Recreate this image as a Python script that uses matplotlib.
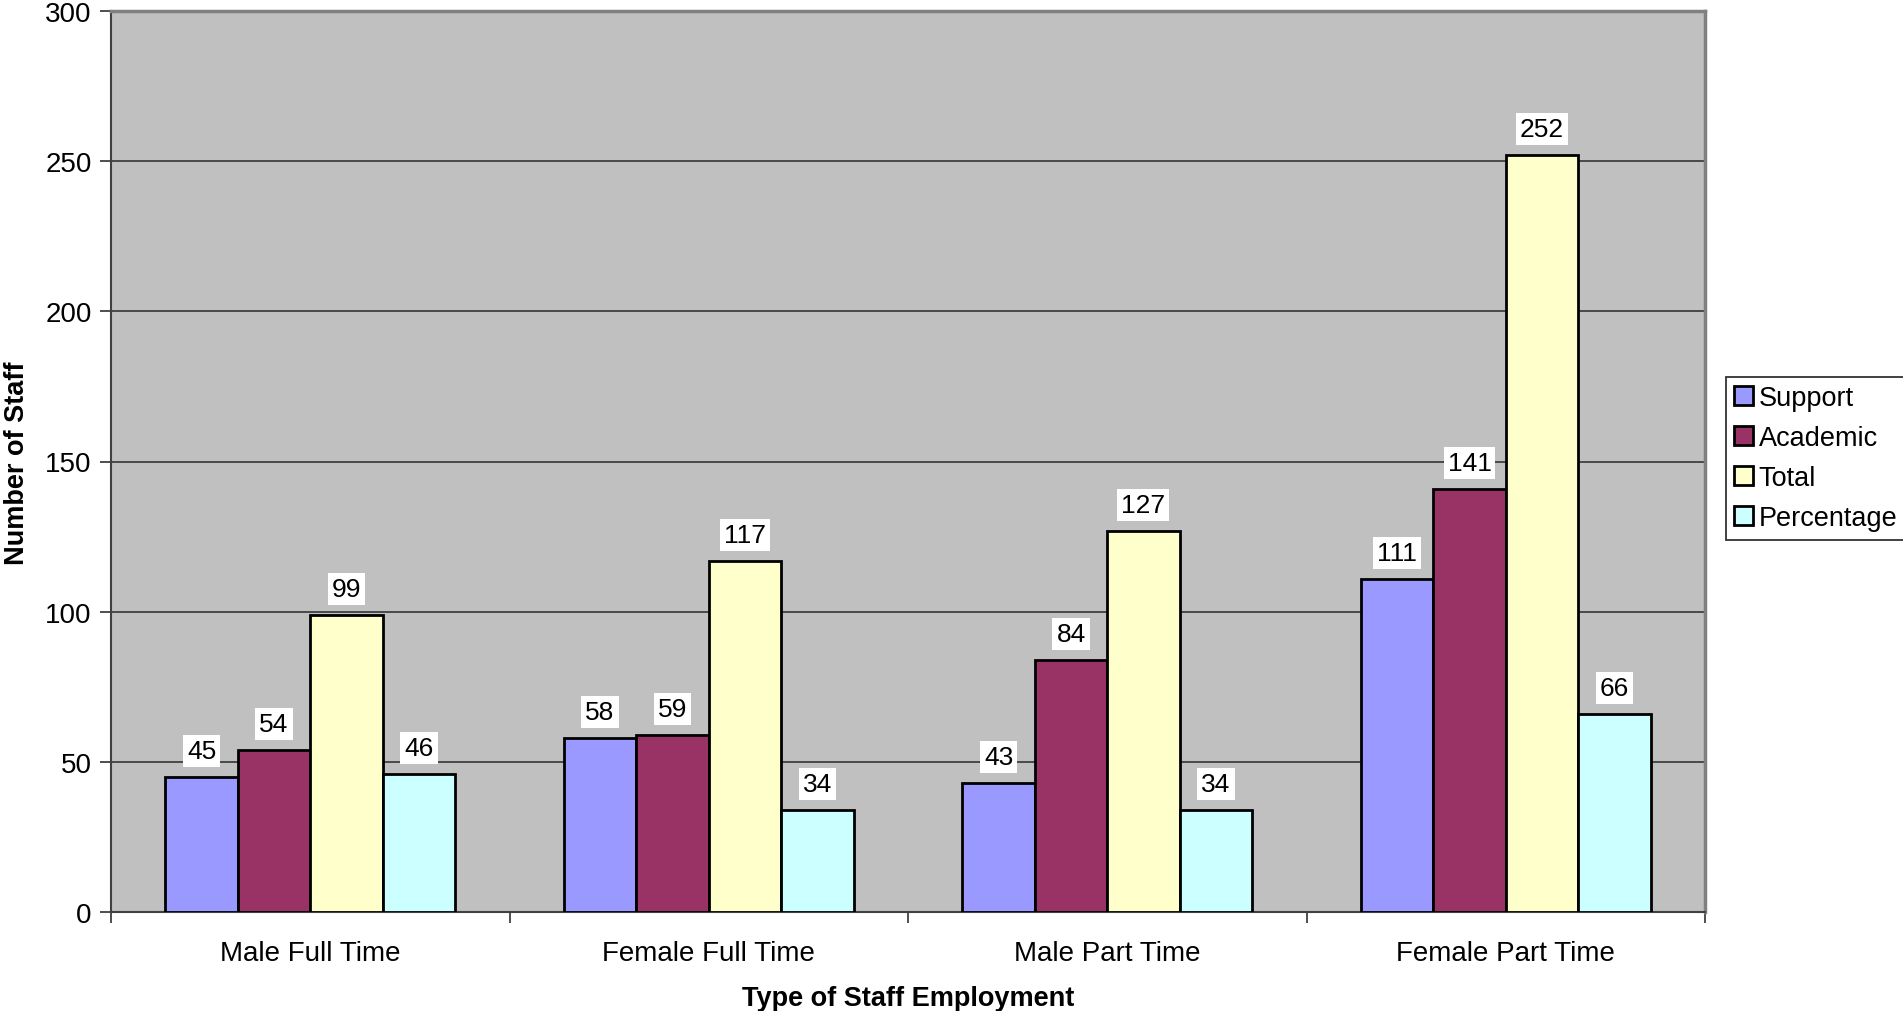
import numpy as np
import matplotlib
matplotlib.use('Agg')
import matplotlib.pyplot as plt

plt.rcParams['font.family'] = ['Liberation Sans', 'DejaVu Sans']

# staff counts per employment type
categories = ['Male Full Time', 'Female Full Time', 'Male Part Time', 'Female Part Time']
support = [45, 58, 43, 111]
academic = [54, 59, 84, 141]
total = [99, 117, 127, 252]
percentage = [46, 34, 34, 66]

series = [('Support', support, '#9999FF'),
          ('Academic', academic, '#993366'),
          ('Total', total, '#FFFFCC'),
          ('Percentage', percentage, '#CCFFFF')]

fig = plt.figure(figsize=(19.03, 10.12), dpi=100)
ax = fig.add_axes([111 / 1903, 1 - 913 / 1012, 1594 / 1903, 901 / 1012])
ax.set_facecolor('#C0C0C0')

x = np.arange(len(categories))
w = 1 / 5.5          # 4 bars + 150% gap
for i, (name, vals, col) in enumerate(series):
    pos = x + (i - 1.5) * w
    bars = ax.bar(pos, vals, w, color=col, edgecolor='black', linewidth=2, label=name, zorder=3)
    for b, v in zip(bars, vals):
        ax.annotate(str(v), (b.get_x() + b.get_width() / 2, v), xytext=(0, 10),
                    textcoords='offset points', ha='center', va='bottom', fontsize=19,
                    bbox=dict(boxstyle='square,pad=0.15', fc='white', ec='none'), zorder=4)

ax.set_xlim(-0.5, len(categories) - 0.5)
ax.set_ylim(0, 300)
ax.set_yticks(range(0, 301, 50))
ax.yaxis.grid(True, color='#404040', linewidth=1.3, zorder=1)

# category boundaries carry the ticks, names sit in between
ax.set_xticks(np.arange(-0.5, len(categories)), minor=False)
ax.set_xticklabels([])
ax.set_xticks(x, minor=True)
ax.set_xticklabels(categories, minor=True, fontsize=20)
ax.tick_params(axis='x', which='minor', length=0, pad=20)
ax.tick_params(axis='x', which='major', length=8, width=1.3, color='#404040', direction='out')
ax.tick_params(axis='y', length=8, width=1.3, color='#404040', labelsize=20, pad=6)

for s in ['top', 'right']:
    ax.spines[s].set_color('#808080')
    ax.spines[s].set_linewidth(2.5)
for s in ['left', 'bottom']:
    ax.spines[s].set_color('#404040')
    ax.spines[s].set_linewidth(1.5)

fig.text(17 / 1903, 1 - 463 / 1012, 'Number of Staff', rotation=90, ha='center', va='center',
         fontsize=19.5, fontweight='bold')
fig.text(908 / 1903, 1 - 999 / 1012, 'Type of Staff Employment', ha='center', va='center',
         fontsize=19.5, fontweight='bold')

leg = fig.legend(loc='upper left', bbox_to_anchor=(1726 / 1903, 1 - 378 / 1012), fontsize=19.5,
                 frameon=True, fancybox=False, edgecolor='black', borderpad=0.3,
                 handlelength=0.7, handleheight=0.7, handletextpad=0.2, labelspacing=0.52,
                 borderaxespad=0)
leg.get_frame().set_linewidth(1.3)

fig.savefig('out.png', dpi=100)
